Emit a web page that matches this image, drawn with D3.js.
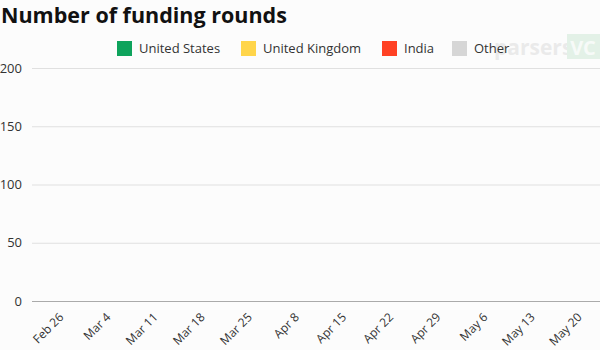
<!DOCTYPE html>
<html>
<head>
<meta charset="utf-8">
<script src="https://cdn.jsdelivr.net/npm/d3@7"></script>
<style>
  html, body { margin: 0; padding: 0; background: #fcfcfc; }
  svg { display: block; font-family: "Open Sans", sans-serif; }
</style>
</head>
<body>
<svg id="chart" width="600" height="350"></svg>
<script>
const weeks = ["Feb 26","Mar 4","Mar 11","Mar 18","Mar 25","Apr 8","Apr 15","Apr 22","Apr 29","May 6","May 13","May 20"];
const seriesNames = ["United States","United Kingdom","India","Other"];
const seriesColors = ["#0ea35c","#ffd54a","#ff4124","#d6d6d6"];
// The reference frame shows no bars yet: every week reads as 0.
const unitedStates  = [0,0,0,0,0,0,0,0,0,0,0,0];
const unitedKingdom = [0,0,0,0,0,0,0,0,0,0,0,0];
const india         = [0,0,0,0,0,0,0,0,0,0,0,0];
const other         = [0,0,0,0,0,0,0,0,0,0,0,0];
const yTicks = [0,50,100,150,200];

const svg = d3.select("#chart");
const gridLeft = 32, gridRight = 600, mTop = 68, mBottom = 301;

const x = d3.scaleBand().domain(weeks).range([36, 611]).padding(0.2);
const y = d3.scaleLinear().domain([0, 200]).range([mBottom, mTop]);

// Title
svg.append("text").attr("x", 1).attr("y", 23)
  .attr("font-size", 21.5).attr("font-weight", 700).attr("fill", "#111")
  .text("Number of funding rounds");

// Watermark
const wm = svg.append("g").attr("opacity", 0.55);
wm.append("text").attr("x", 494).attr("y", 55)
  .attr("font-size", 21).attr("font-weight", 700).attr("fill", "#dcdcdc")
  .text("parsers");
wm.append("rect").attr("x", 567).attr("y", 34).attr("width", 33).attr("height", 25).attr("fill", "#cfe9d6");
wm.append("text").attr("x", 583).attr("y", 55).attr("text-anchor", "middle")
  .attr("font-size", 20).attr("font-weight", 700).attr("fill", "#f4faf5").text("VC");

// Legend
const legendX = [117, 241, 382, 452];
const lg = svg.append("g");
seriesNames.forEach((n, i) => {
  lg.append("rect").attr("x", legendX[i]).attr("y", 41).attr("width", 15).attr("height", 15)
    .attr("fill", seriesColors[i]);
  lg.append("text").attr("x", legendX[i] + 22).attr("y", 53)
    .attr("font-size", 13).attr("fill", "#333").text(n);
});

// Grid + y axis
const yAxis = d3.axisLeft(y).tickValues(yTicks).tickSize(-(gridRight - gridLeft)).tickPadding(10);
const gy = svg.append("g").attr("transform", `translate(${gridLeft},0)`).call(yAxis);
gy.select(".domain").remove();
gy.selectAll(".tick line").attr("stroke", "#e0e0e0");
gy.selectAll(".tick").filter(d => d === 0).select("line").attr("stroke", "#aaa");
gy.selectAll(".tick text").attr("font-size", 13).attr("fill", "#333")
  .attr("font-family", "Open Sans, sans-serif");

// Stacked bars
const rows = weeks.map((w, i) => ({ week: w, "United States": unitedStates[i],
  "United Kingdom": unitedKingdom[i], "India": india[i], "Other": other[i] }));
const stacked = d3.stack().keys(seriesNames)(rows);
svg.append("g").selectAll("g").data(stacked).join("g")
  .attr("fill", (d, i) => seriesColors[i])
  .selectAll("rect").data(d => d).join("rect")
  .attr("x", d => x(d.data.week)).attr("width", x.bandwidth())
  .attr("y", d => y(d[1])).attr("height", d => y(d[0]) - y(d[1]));

// X axis labels
const xAxis = d3.axisBottom(x).tickSize(0).tickPadding(0);
const gx = svg.append("g").attr("transform", `translate(0,${mBottom})`).call(xAxis);
gx.select(".domain").remove();
gx.selectAll(".tick text")
  .attr("font-size", 12).attr("fill", "#333").attr("font-family", "Open Sans, sans-serif")
  .attr("text-anchor", "end").attr("dy", 0).attr("y", 0)
  .attr("transform", "translate(0,17) rotate(-45)");
</script>
</body>
</html>
